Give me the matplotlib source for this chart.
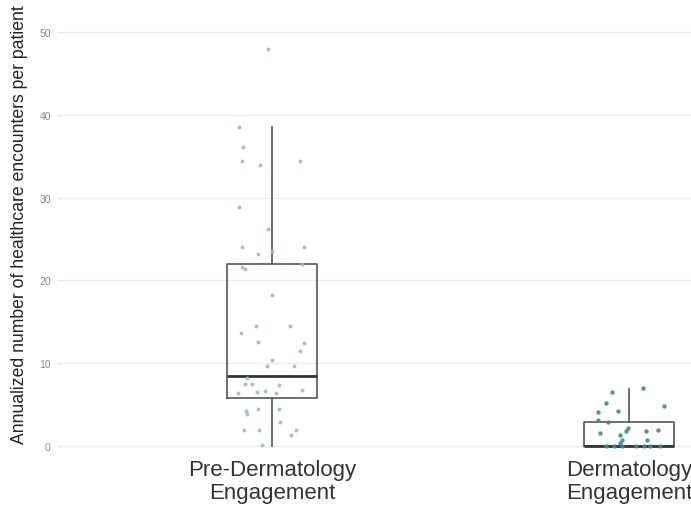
import matplotlib
matplotlib.use("Agg")
import matplotlib.pyplot as plt
import numpy as np

plt.rcParams['font.family'] = ['Liberation Sans', 'DejaVu Sans']

categories = ["Pre-Dermatology\nEngagement", "Dermatology\nEngagement"]

# Box statistics
pre_stats = dict(med=8.45, q1=5.8, q3=22.0, whislo=0.0, whishi=38.5)
derm_stats = dict(med=0.05, q1=0.0, q3=2.9, whislo=0.0, whishi=6.9)

# Individual points (values and horizontal jitter)
pre_values = [48.0, 38.5, 36.1, 34.4, 34.0, 34.4, 28.9, 26.2, 24.0, 24.0, 21.6,
              23.2, 23.5, 22.0, 21.4, 18.2, 14.5, 14.5, 13.6, 12.6, 12.4, 11.5,
              10.4, 9.7, 9.7, 8.2, 7.5, 7.5, 7.4, 6.4, 6.5, 6.6, 6.4, 6.8, 4.2,
              4.5, 4.5, 2.9, 1.9, 2.0, 2.0, 1.3, 0.1, 3.9]
pre_jitter = [-0.011, -0.092, -0.081, -0.084, -0.034, 0.078, -0.092, -0.011,
              -0.084, 0.090, -0.084, -0.039, 0.000, 0.084, -0.076, 0.000,
              -0.045, 0.050, -0.087, -0.039, 0.090, 0.078, 0.000, -0.014,
              0.062, -0.070, -0.076, -0.056, 0.020, -0.095, -0.042, -0.020,
              0.011, 0.084, -0.073, -0.039, 0.020, 0.022, -0.078, -0.036,
              0.067, 0.053, -0.028, -0.070]
derm_values = [6.5, 7.0, 5.2, 4.3, 4.8, 4.1, 3.1, 2.9, 1.6, 2.2, 1.8, 1.3, 1.8,
               1.9, 0.7, 0.4, 0.7, 0.0, 0.0, 0.0, 0.0, 0.0, 0.0, 0.0]
derm_jitter = [-0.048, 0.039, -0.064, -0.031, 0.098, -0.087, -0.087, -0.059,
               -0.081, -0.003, -0.008, -0.025, 0.048, 0.081, 0.050, -0.025,
               -0.020, -0.064, -0.042, -0.020, 0.020, 0.042, 0.059, 0.087]

yticks = [0, 10, 20, 30, 40, 50]
ylabel = "Annualized number of healthcare encounters per patient"

W, H = 691, 510
fig = plt.figure(figsize=(W / 100, H / 100), dpi=100)
x0, x1 = 0.4, 1 + (691 - 272) / 357
ax = fig.add_axes([57.8 / W, 1 - 467 / H, 1 - 57.8 / W, (467 - 29.7) / H])
ax.set_xlim(x0, x1)
ax.set_ylim(-2.4, 50.4)

for y in yticks:
    ax.axhline(y, color="#ebebeb", lw=1.0, zorder=0)

stats = []
for s, lab in zip([pre_stats, derm_stats], categories):
    d = dict(s)
    d["label"] = lab
    d["fliers"] = []
    stats.append(d)
ax.bxp(stats, positions=[1, 2], widths=0.25, showfliers=False, showcaps=False,
       boxprops=dict(color="#555555", lw=1.2),
       whiskerprops=dict(color="#555555", lw=1.2),
       medianprops=dict(color="#333333", lw=2.0),
       manage_ticks=False, zorder=2)

ax.scatter(1 + np.array(pre_jitter), pre_values, s=8, color="#9dbcb3",
           alpha=0.9, lw=0, zorder=3)
ax.scatter(2 + np.array(derm_jitter), derm_values, s=10, color="#3f8792",
           alpha=0.9, lw=0, zorder=3)

ax.set_xticks([1, 2])
ax.set_xticklabels(categories, fontsize=16, color="#333333", linespacing=1.15)
ax.set_yticks(yticks)
ax.set_yticklabels([str(t) for t in yticks], fontsize=7.5, color="#888888")
ax.tick_params(axis="both", length=0)
ax.tick_params(axis="x", pad=-5)
ax.tick_params(axis="y", pad=5)
for sp in ax.spines.values():
    sp.set_visible(False)

fig.text(20 / W, 1 - 225 / H, ylabel, rotation=90, ha="center", va="center",
         fontsize=12.7, color="#222222")

fig.savefig("out.png", dpi=100)
